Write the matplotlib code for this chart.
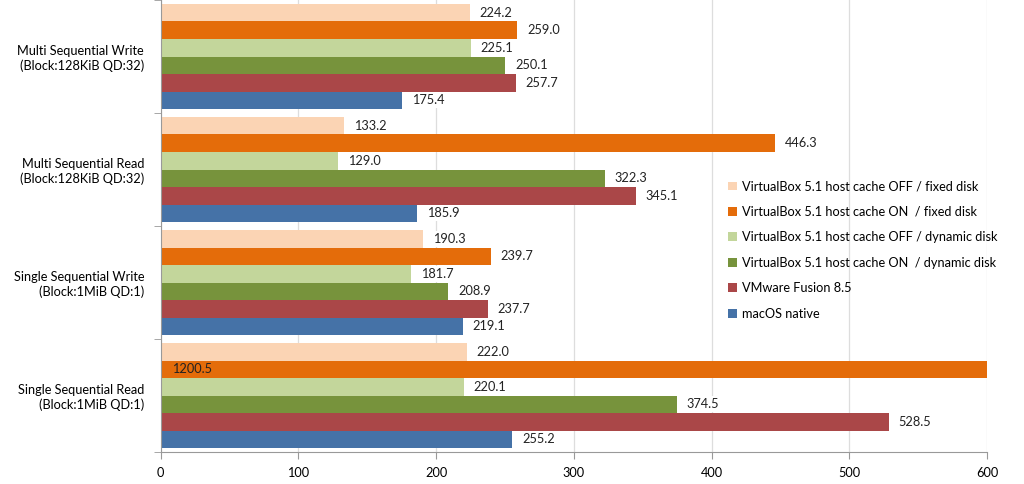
import numpy as np
import matplotlib.pyplot as plt
from matplotlib.ticker import FixedLocator

plt.rcParams['font.family'] = ['Lato', 'DejaVu Sans']

categories = ['Multi Sequential Write\n(Block:128KiB QD:32)',
              'Multi Sequential Read\n(Block:128KiB QD:32)',
              'Single Sequential Write\n(Block:1MiB QD:1)',
              'Single Sequential Read\n(Block:1MiB QD:1)']
series = ['VirtualBox 5.1 host cache OFF / fixed disk',
          'VirtualBox 5.1 host cache ON  / fixed disk',
          'VirtualBox 5.1 host cache OFF / dynamic disk',
          'VirtualBox 5.1 host cache ON  / dynamic disk',
          'VMware Fusion 8.5',
          'macOS native']
vbox_off_fixed = [224.2, 133.2, 190.3, 222.0]
vbox_on_fixed = [259.0, 446.3, 239.7, 1200.5]
vbox_off_dyn = [225.1, 129.0, 181.7, 220.1]
vbox_on_dyn = [250.1, 322.3, 208.9, 374.5]
vmware = [257.7, 345.1, 237.7, 528.5]
macos = [175.4, 185.9, 219.1, 255.2]
values = [vbox_off_fixed, vbox_on_fixed, vbox_off_dyn, vbox_on_dyn, vmware, macos]
colors = ['#FBD4B4', '#E46C0A', '#C3D69B', '#77933C', '#AA4748', '#4572A7']

xmax = 600
fs = 9.2

fig = plt.figure(figsize=(10.24, 4.84), dpi=100)
ax = fig.add_axes([0.157, 0.066, 0.807, 0.934])

y = np.arange(len(categories))
h = 0.155
for j, (name, vals, c) in enumerate(zip(series, values, colors)):
    pos = y + (j - 2.5) * h
    ax.barh(pos, vals, height=h, color=c, label=name, zorder=2)
    for p, v in zip(pos, vals):
        if v > xmax:
            ax.annotate(f'{v:.1f}', (0, p), xytext=(8, 0), textcoords='offset points',
                        va='center', ha='left', fontsize=fs, color='#222222', zorder=4)
        else:
            ax.annotate(f'{v:.1f}', (v, p), xytext=(7, 0), textcoords='offset points',
                        va='center', ha='left', fontsize=fs, color='#222222', zorder=4,
                        bbox=dict(boxstyle='square,pad=0.15', fc='white', ec='none'))

ax.set_xlim(0, xmax)
ax.set_ylim(3.5, -0.5)
ax.set_xticks(np.arange(0, 601, 100))
ax.set_yticks(y)
ax.set_yticklabels(categories, fontsize=fs, ha='right', multialignment='right')
ax.yaxis.set_minor_locator(FixedLocator([-0.5, 0.5, 1.5, 2.5, 3.5]))
ax.tick_params(axis='y', which='major', length=0, pad=12)
ax.tick_params(axis='y', which='minor', length=5, color='#999999')
ax.tick_params(axis='x', length=5, color='#999999', labelsize=fs, pad=6)
ax.grid(axis='x', color='#dddddd', linewidth=0.9, zorder=0)
ax.set_axisbelow(True)
for s in ['top', 'right']:
    ax.spines[s].set_visible(False)
for s in ['left', 'bottom']:
    ax.spines[s].set_color('#999999')

ax.legend(loc='center left', bbox_to_anchor=(0.672, 0.447), frameon=False,
          fontsize=fs, handlelength=0.7, handleheight=0.7, handletextpad=0.4,
          labelspacing=1.05)

fig.savefig('out.png', dpi=100)
